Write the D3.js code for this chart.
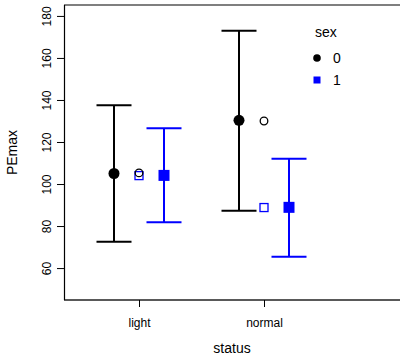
<!DOCTYPE html>
<html>
<head>
<meta charset="utf-8">
<script src="https://cdn.jsdelivr.net/npm/d3@7"></script>
<style>
  body { margin: 0; background: #fff; }
  text { font-family: "Liberation Sans", Arial, sans-serif; fill: #000; }
</style>
</head>
<body>
<div id="graph"></div>
<script>
// Données
const status = ["light", "normal"];
const sexes = ["0", "1"];
const colors = ["#000000", "#0000ff"];
// moyennes et intervalles par sexe
const mean0 = [105, 130.3];
const lower0 = [72.5, 87.3];
const upper0 = [137.5, 172.9];
const mean1 = [104.1, 88.9];
const lower1 = [81.8, 65.4];
const upper1 = [126.6, 112];
// points ouverts (valeurs brutes)
const open0 = [105.3, 130];
const open1 = [104, 88.8];
const yTicks = [60, 80, 100, 120, 140, 160, 180];

const W = 400, H = 357;
const margin = { top: 5, right: 0, bottom: 57, left: 64 };

const svg = d3.select("#graph").append("svg")
  .attr("width", W).attr("height", H);

const x = d3.scaleLinear().domain([0.4, 2.6]).range([margin.left, margin.left + 275]);
const y = d3.scaleLinear().domain([44.8, 185.2]).range([H - margin.bottom, margin.top]);

// Cadre (gauche, haut, bas)
svg.append("line").attr("x1", margin.left).attr("x2", W + 2)
  .attr("y1", y.range()[1]).attr("y2", y.range()[1])
  .attr("stroke", "#555").attr("stroke-width", 1.5);
svg.append("line").attr("x1", margin.left).attr("x2", W + 2)
  .attr("y1", y.range()[0]).attr("y2", y.range()[0])
  .attr("stroke", "#222").attr("stroke-width", 1.5);

// Axes
const yAxis = svg.append("g")
  .attr("transform", `translate(${margin.left},0)`)
  .call(d3.axisLeft(y).tickValues(yTicks).tickSize(7).tickPadding(4));
yAxis.select(".domain").attr("stroke", "#000").attr("stroke-width", 1.2)
  .attr("d", `M0.5,${y.range()[1]}V${y.range()[0]}`);
yAxis.selectAll(".tick text")
  .attr("font-size", 12)
  .attr("font-family", "Liberation Sans, Arial, sans-serif")
  .attr("text-anchor", "middle")
  .attr("x", null).attr("dy", null)
  .attr("transform", "translate(-16,0) rotate(-90)")
  .attr("dominant-baseline", "middle");

const xAxis = svg.append("g")
  .attr("transform", `translate(0,${y.range()[0]})`)
  .call(d3.axisBottom(x).tickValues([1, 2]).tickFormat((d, i) => status[i]).tickSize(7).tickPadding(11));
xAxis.select(".domain").remove();
xAxis.selectAll(".tick text")
  .attr("font-size", 12)
  .attr("font-family", "Liberation Sans, Arial, sans-serif");

// Titres des axes
svg.append("text")
  .attr("x", (margin.left + W) / 2).attr("y", 353)
  .attr("text-anchor", "middle").attr("font-size", 14)
  .text("status");
svg.append("text")
  .attr("transform", `translate(17,${(y.range()[0] + y.range()[1]) / 2}) rotate(-90)`)
  .attr("text-anchor", "middle").attr("font-size", 14)
  .text("PEmax");

const off = 0.2; // décalage horizontal des barres
const cap = 17.5;

function errorBars(means, lows, highs, shift, color, shape) {
  status.forEach((s, i) => {
    const cx = x(i + 1 + shift);
    const g = svg.append("g").attr("stroke", color).attr("stroke-width", 2).attr("fill", "none");
    g.append("line").attr("x1", cx).attr("x2", cx).attr("y1", y(lows[i])).attr("y2", y(highs[i]));
    g.append("line").attr("x1", cx - cap).attr("x2", cx + cap).attr("y1", y(lows[i])).attr("y2", y(lows[i]));
    g.append("line").attr("x1", cx - cap).attr("x2", cx + cap).attr("y1", y(highs[i])).attr("y2", y(highs[i]));
    if (shape === "circle") {
      svg.append("circle").attr("cx", cx).attr("cy", y(means[i])).attr("r", 5.5).attr("fill", color);
    } else {
      svg.append("rect").attr("x", cx - 5.5).attr("y", y(means[i]) - 5.5)
        .attr("width", 11).attr("height", 11).attr("fill", color);
    }
  });
}

errorBars(mean0, lower0, upper0, -off, colors[0], "circle");
errorBars(mean1, lower1, upper1, off, colors[1], "square");

// Points ouverts
status.forEach((s, i) => {
  const cx = x(i + 1);
  svg.append("rect").attr("x", cx - 4).attr("y", y(open1[i]) - 4)
    .attr("width", 8).attr("height", 8)
    .attr("fill", "none").attr("stroke", colors[1]).attr("stroke-width", 1.3);
  svg.append("circle").attr("cx", cx).attr("cy", y(open0[i])).attr("r", 3.8)
    .attr("fill", "none").attr("stroke", colors[0]).attr("stroke-width", 1.3);
});

// Légende
const legend = svg.append("g").attr("transform", "translate(312,0)");
legend.append("text").attr("x", 3).attr("y", 37).attr("font-size", 14).text("sex");
sexes.forEach((s, i) => {
  const ly = 58 + i * 22;
  if (i === 0) {
    legend.append("circle").attr("cx", 5).attr("cy", ly).attr("r", 3.8).attr("fill", colors[i]);
  } else {
    legend.append("rect").attr("x", 1.5).attr("y", ly - 3.5).attr("width", 7).attr("height", 7).attr("fill", colors[i]);
  }
  legend.append("text").attr("x", 21).attr("y", ly).attr("dy", "0.36em")
    .attr("font-size", 14).text(s);
});
</script>
</body>
</html>
